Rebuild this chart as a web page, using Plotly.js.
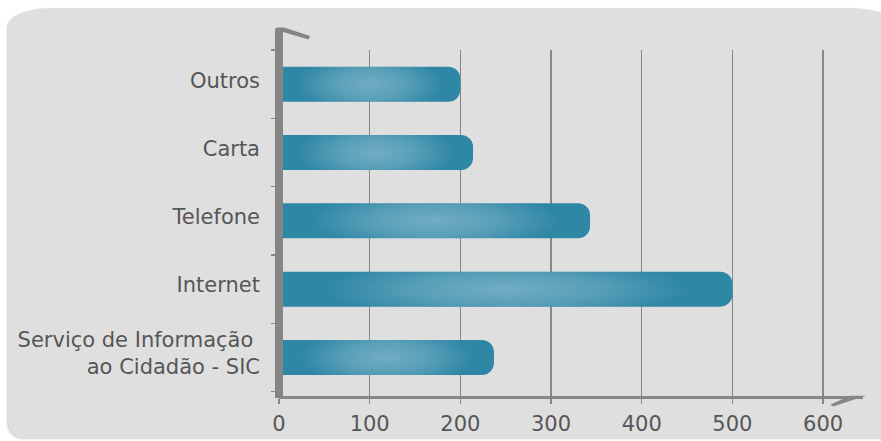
<!DOCTYPE html>
<html>
<head>
<meta charset="utf-8">
<script src="https://cdn.plot.ly/plotly-3.0.1.min.js"></script>
<style>
  html, body { margin: 0; padding: 0; background: #ffffff; width: 881px; height: 441px; overflow: hidden; }
  #panel {
    position: absolute; left: 8px; top: 8px; width: 900px; height: 430px;
    background: #e0dfe0;
    border-radius: 44px 60px 0 16px / 18px 26px 0 16px;
    box-shadow: -1px 1px 2px rgba(0,0,0,0.18);
  }
  #chart { position: absolute; left: 0; top: 0; width: 881px; height: 441px; }
</style>
</head>
<body>
<div id="panel"></div>
<div id="chart"></div>
<script>
// ---- data (bottom to top) ----
const categories = ['Serviço de Informação <br>ao Cidadão - SIC', 'Internet', 'Telefone', 'Carta', 'Outros'];
const values = [237, 500, 343, 214, 200];
const xTickVals = [0, 100, 200, 300, 400, 500, 600];
const xTickText = ['0', '100', '200', '300', '400', '500', '600'];

// ---- layout geometry ----
const W = 881, H = 441;
const M = { l: 279, r: 18, t: 50, b: 45 };
const plotW = W - M.l - M.r, plotH = H - M.t - M.b;
const px = v => (v - M.l) / plotW;
const py = v => (H - M.b - v) / plotH;
const barWidth = 0.512;
const axisGray = '#878787';
const textGray = '#565656';
const fontFam = '"DejaVu Sans", sans-serif';

const glow = "data:image/svg+xml;utf8," + encodeURIComponent(
  "<svg xmlns='http://www.w3.org/2000/svg' width='200' height='20' viewBox='0 0 200 20' preserveAspectRatio='none'>" +
  "<defs><radialGradient id='g' cx='0.5' cy='0.5' r='0.5' gradientTransform='translate(0.5,0.5) scale(1,2.2) translate(-0.5,-0.5)'>" +
  "<stop offset='0' stop-color='#ffffff' stop-opacity='0.32'/>" +
  "<stop offset='0.4' stop-color='#ffffff' stop-opacity='0.2'/>" +
  "<stop offset='0.8' stop-color='#ffffff' stop-opacity='0'/>" +
  "</radialGradient></defs><rect x='0' y='0' width='200' height='20' fill='url(#g)'/></svg>");

const images = values.map((v, i) => ({
  source: glow, xref: 'x', yref: 'y',
  x: 0, y: i + barWidth / 2, sizex: v, sizey: barWidth,
  sizing: 'stretch', xanchor: 'left', yanchor: 'top', layer: 'above'
}));

const trace = {
  type: 'bar', orientation: 'h',
  x: values, y: categories,
  width: barWidth,
  marker: { color: '#2f87a6', cornerradius: 12, line: { width: 0 } },
  hoverinfo: 'x+y'
};

const shapes = [
  { // thick y-axis with top flag
    type: 'path', xref: 'paper', yref: 'paper', layer: 'above',
    path: `M ${px(275)},${py(398)} L ${px(275)},${py(29)} L ${px(277)},${py(27.5)} L ${px(284)},${py(27.5)} ` +
          `L ${px(310)},${py(36)} L ${px(308.5)},${py(39.5)} L ${px(283)},${py(32)} L ${px(283)},${py(398)} Z`,
    fillcolor: '#858585', line: { width: 0 }
  },
  { // x-axis tail
    type: 'path', xref: 'paper', yref: 'paper', layer: 'above',
    path: `M ${px(850)},${py(395.8)} L ${px(866)},${py(395.8)} L ${px(833)},${py(406.5)} L ${px(830.5)},${py(404.5)} Z`,
    fillcolor: axisGray, line: { width: 0 }
  }
];

const layout = {
  width: W, height: H,
  margin: { l: M.l, r: M.r, t: M.t, b: M.b, pad: 0 },
  paper_bgcolor: 'rgba(0,0,0,0)', plot_bgcolor: 'rgba(0,0,0,0)',
  font: { family: fontFam, color: textGray, size: 21 },
  showlegend: false,
  xaxis: {
    range: [0, 644], tickvals: xTickVals, ticktext: xTickText,
    showgrid: true, gridcolor: axisGray, gridwidth: 1.5,
    showline: true, linecolor: axisGray, linewidth: 3,
    ticks: 'outside', ticklen: 5, tickwidth: 1.5, tickcolor: axisGray,
    ticklabelstandoff: 2,
    zeroline: false, tickfont: { family: fontFam, size: 21, color: textGray }, fixedrange: true
  },
  yaxis: {
    type: 'category', categoryorder: 'array', categoryarray: categories,
    range: [-0.564, 4.5],
    showgrid: false, zeroline: false, showline: false,
    ticks: 'outside', ticklen: 7, tickwidth: 1.5, tickcolor: axisGray,
    tickson: 'boundaries', ticklabelstandoff: 18, ticklabelshift: -4,
    tickfont: { family: fontFam, size: 21, color: textGray }, fixedrange: true
  },
  bargap: 0.488,
  shapes: shapes,
  images: images
};

Plotly.newPlot('chart', [trace], layout, { displayModeBar: false, staticPlot: true });
</script>
</body>
</html>
